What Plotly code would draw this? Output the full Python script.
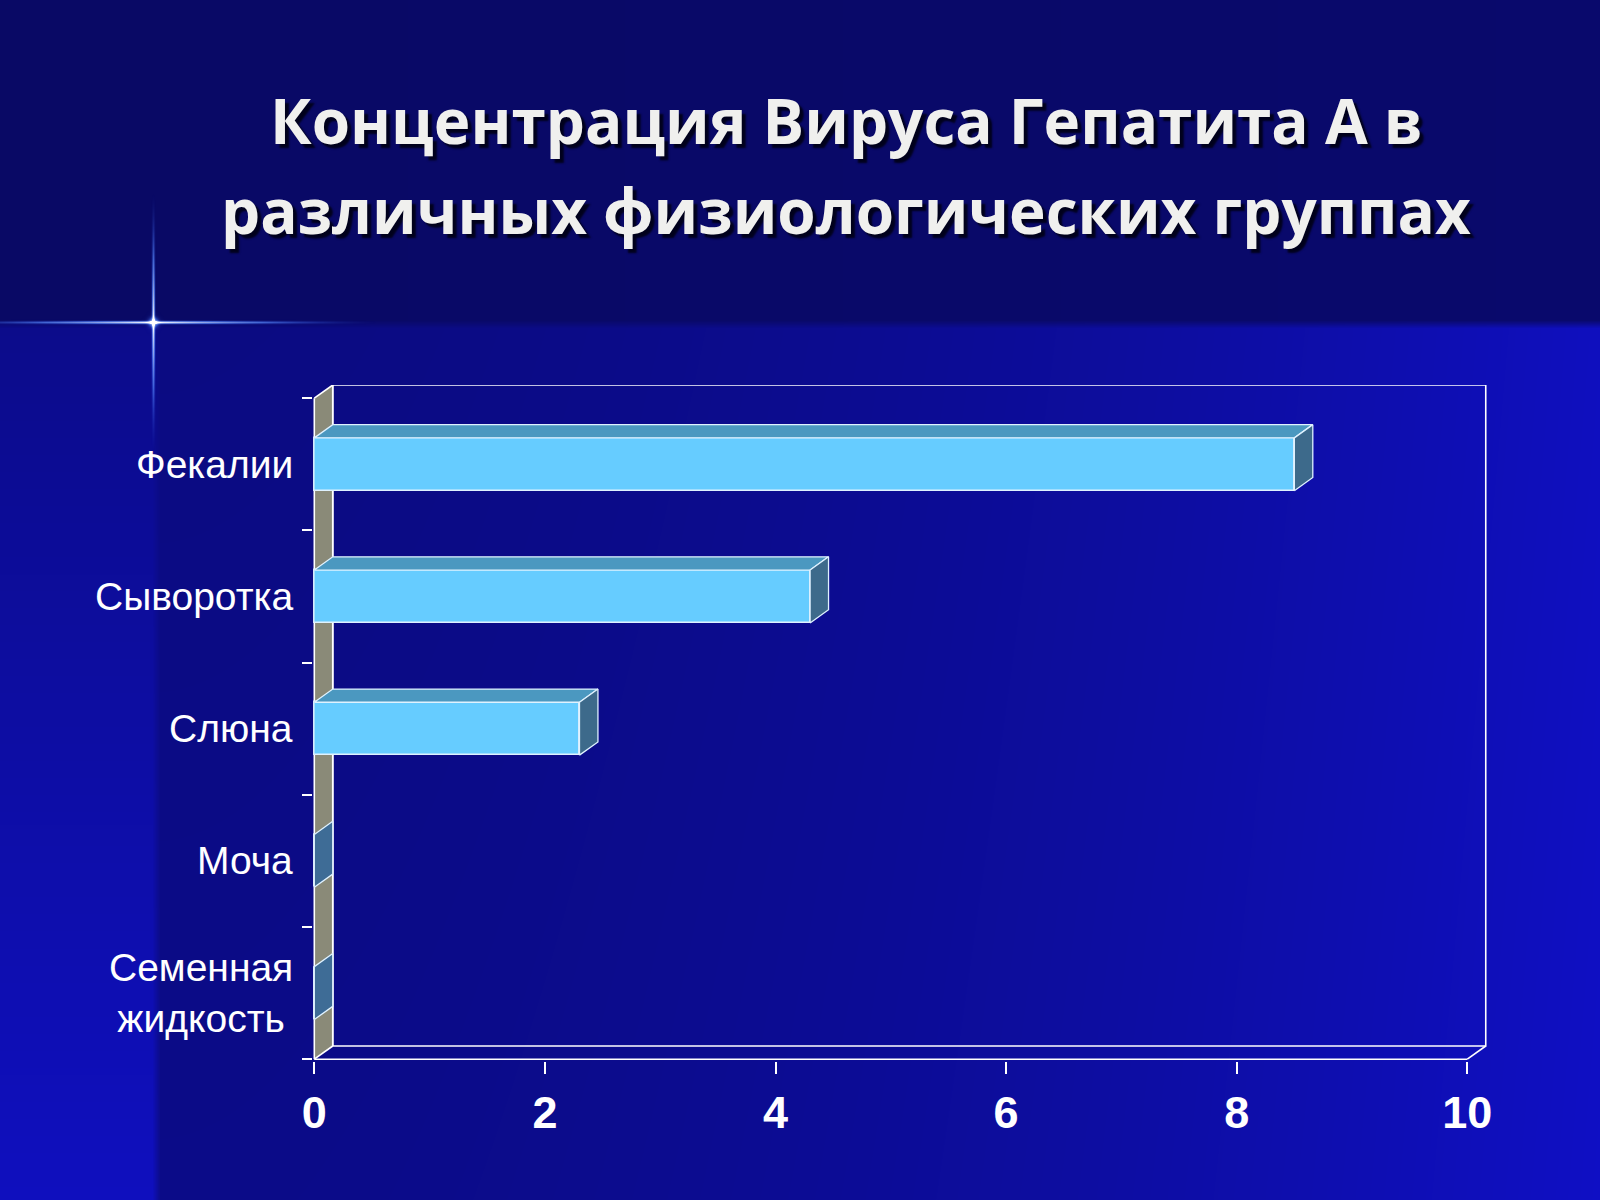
import numpy as np
import plotly.graph_objects as go

# ---------------- data ----------------
categories = ["Фекалии", "Сыворотка", "Слюна", "Моча", "Семенная<br>жидкость"]
values = [8.5, 4.3, 2.3, 0, 0]
x_tickvals = [0, 2, 4, 6, 8, 10]
title_lines = ["Концентрация Вируса Гепатита А в", "различных физиологических группах"]

# ---------------- geometry / style ----------------
W, H = 1600, 1200
DX, DY = 0.16, 0.10           # 3D depth offset in data units
HALF = 0.20                   # half bar thickness
XMIN, XMAX = -0.015, 10.2
YMIN, YMAX = -0.515, 4.6
PX_X = 115.3                  # px per x unit
PX_Y = 132.2                  # px per category
X0_PX = 314.3                 # pixel of x=0
YB_PX = 1059.2                # pixel of y=-0.5 (front floor)

n = len(categories)
ypos = [n - 1 - i for i in range(n)]

xl = X0_PX + XMIN * PX_X
xr = X0_PX + XMAX * PX_X
yb = YB_PX + (YMIN + 0.5) * (-PX_Y)
yt = YB_PX - (YMAX + 0.5) * PX_Y

FRONT = "#66ccff"
TOP = "#4b98c0"
SIDE = "#3d6a8b"
ZERO_SIDE = "#3e6c96"
WALL = "#8a8a78"
EDGE = "#dff2ff"

fig = go.Figure()

# ---------------- background (gradient slide) ----------------
gx = np.linspace(0, W, 201)
gy = np.linspace(0, H, 151)
GX, GY = np.meshgrid(gx, gy)
t = np.where(
    GY < 324,
    0.29 + 0.05 * GX / W,
    np.where(
        GX < 153,
        0.55 + 0.35 * (GY - 324) / 876,
        0.49 + 0.41 * ((GX - 153) / 1447) ** 2 + 0.04 * (GY - 324) / 876,
    ),
)
fig.add_trace(go.Heatmap(
    x=gx, y=gy, z=t, zmin=0, zmax=1, zsmooth="best",
    colorscale=[[0, "rgb(6,6,58)"], [1, "rgb(16,16,205)"]],
    showscale=False, hoverinfo="skip", xaxis="x", yaxis="y",
))

# sparkle glow (decoration) as a transparent heatmap layer
cx, cy = 153, 322
sx = np.unique(np.concatenate([np.arange(0, 384, 4), np.arange(cx - 8, cx + 8.5, 1.0)]))
sy = np.unique(np.concatenate([np.arange(190, 464, 4), np.arange(cy - 8, cy + 8.5, 1.0)]))
SX, SY = np.meshgrid(sx, sy)
hor = np.exp(-((SY - cy) / 1.3) ** 2) * np.clip(1 - np.abs(SX - cx) / 225, 0, 1) ** 1.6
ver = np.exp(-((SX - cx) / 1.3) ** 2) * np.clip(1 - np.abs(SY - cy) / 130, 0, 1) ** 1.6
core = 0.7 * np.exp(-((SX - cx) ** 2 + (SY - cy) ** 2) / 20.0)
glow = np.clip(hor + ver + core, 0, 1)
fig.add_trace(go.Heatmap(
    x=sx, y=sy, z=glow, zmin=0, zmax=1, zsmooth="best",
    colorscale=[[0, "rgba(60,110,255,0)"], [0.35, "rgba(90,140,255,0.7)"],
                [1, "rgba(255,255,255,1)"]],
    showscale=False, hoverinfo="skip", xaxis="x", yaxis="y",
))

# ---------------- bars: front faces ----------------
fig.add_trace(go.Bar(
    x=values, y=ypos, orientation="h", width=2 * HALF,
    marker=dict(color=FRONT, line=dict(color=EDGE, width=1.5)),
    xaxis="x2", yaxis="y2", hoverinfo="skip", showlegend=False,
))

# top and side faces
for v, c in zip(values, ypos):
    if v > 0:
        fig.add_trace(go.Scatter(
            x=[0, v, v + DX, DX, 0],
            y=[c + HALF, c + HALF, c + HALF + DY, c + HALF + DY, c + HALF],
            fill="toself", fillcolor=TOP, mode="lines",
            line=dict(color=EDGE, width=1.3),
            xaxis="x2", yaxis="y2", hoverinfo="skip", showlegend=False,
        ))
    fig.add_trace(go.Scatter(
        x=[v, v + DX, v + DX, v, v],
        y=[c - HALF, c - HALF + DY, c + HALF + DY, c + HALF, c - HALF],
        fill="toself", fillcolor=SIDE if v > 0 else ZERO_SIDE, mode="lines",
        line=dict(color=EDGE, width=1.3),
        xaxis="x2", yaxis="y2", hoverinfo="skip", showlegend=False,
    ))

# ---------------- 3D frame shapes ----------------
shapes = []
ax = dict(xref="x2", yref="y2", layer="below")
shapes.append(dict(type="path",
                   path=f"M 0,-0.5 L {DX},{-0.5+DY} L {DX},{n-0.5+DY} L 0,{n-0.5} Z",
                   fillcolor=WALL, line=dict(width=0), **ax))
shapes.append(dict(type="rect", x0=DX, y0=-0.5 + DY, x1=10 + DX, y1=n - 0.5 + DY,
                   line=dict(color="white", width=1.6), **ax))
for (a, b, c2, d) in [
    (0, -0.5, 0, n - 0.5),
    (0, -0.5, 10, -0.5),
    (0, n - 0.5, DX, n - 0.5 + DY),
    (0, -0.5, DX, -0.5 + DY),
    (10, -0.5, 10 + DX, -0.5 + DY),
    (DX, -0.5 + DY, DX, n - 0.5 + DY),
]:
    shapes.append(dict(type="line", x0=a, y0=b, x1=c2, y1=d,
                       line=dict(color="white", width=1.6), **ax))

# ---------------- annotations ----------------
annotations = []
for lab, c in zip(categories, ypos):
    annotations.append(dict(
        x=0, y=c, xref="x2", yref="y2", text=lab, showarrow=False,
        xanchor="right", yanchor="middle", xshift=-19, align="center",
        font=dict(family="Liberation Sans, Arial, sans-serif", size=39, color="white"),
    ))
title_y = [120, 210]
for line, yy in zip(title_lines, title_y):
    annotations.append(dict(
        x=846 / W, y=1 - yy / H, xref="paper", yref="paper", text=line,
        showarrow=False, xanchor="center", yanchor="middle",
        font=dict(family="Open Sans, Noto Sans, sans-serif", size=62,
                  color="#f0f0ee", weight="bold",
                  shadow="4px 4px 2px rgba(0,0,20,0.9)"),
    ))

fig.update_layout(
    width=W, height=H,
    margin=dict(l=0, r=0, t=0, b=0, autoexpand=False),
    paper_bgcolor="#0a0a70",
    plot_bgcolor="rgba(0,0,0,0)",
    showlegend=False,
    bargap=0,
    shapes=shapes,
    annotations=annotations,
    xaxis=dict(domain=[0, 1], range=[0, W], visible=False, fixedrange=True,
               automargin=False),
    yaxis=dict(domain=[0, 1], range=[H, 0], visible=False, fixedrange=True,
               automargin=False),
    xaxis2=dict(
        domain=[xl / W, xr / W], range=[XMIN, XMAX], anchor="y2",
        tickvals=x_tickvals, ticktext=[str(v) for v in x_tickvals],
        ticks="outside", ticklen=12, tickwidth=1.6, tickcolor="white",
        showgrid=False, zeroline=False, showline=False, automargin=False,
        tickfont=dict(family="Liberation Sans, Arial, sans-serif", size=45,
                      color="white", weight="bold"),
        ticklabelstandoff=0, fixedrange=True,
    ),
    yaxis2=dict(
        domain=[1 - yb / H, 1 - yt / H], range=[YMIN, YMAX], anchor="x2",
        tickvals=[i - 0.5 for i in range(n + 1)],
        ticks="outside", ticklen=10, tickwidth=1.6, tickcolor="white",
        showticklabels=False, showgrid=False, zeroline=False, showline=False,
        automargin=False, fixedrange=True,
    ),
)

fig.write_html("out.html", config={"displayModeBar": False},
               post_script="document.body.style.margin='0';")
